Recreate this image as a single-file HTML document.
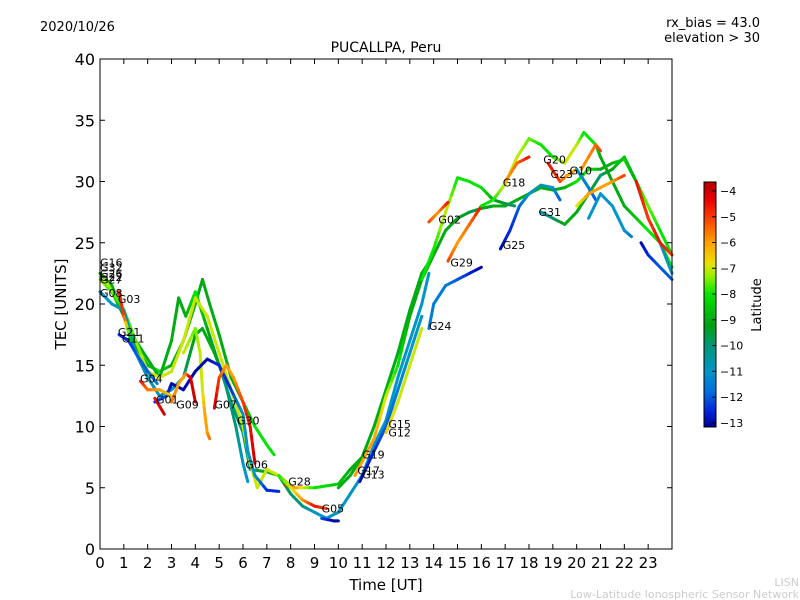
<!DOCTYPE html>
<html><head><meta charset="utf-8"><style>
body{margin:0;background:#fff;}
svg{display:block;font-family:"DejaVu Sans","Liberation Sans",sans-serif;}
</style></head><body>
<svg id="chart" width="800" height="600" viewBox="0 0 800 600">
<text x="40" y="31" font-size="13">2020/10/26</text>
<text x="760" y="27" font-size="13" text-anchor="end">rx_bias = 43.0</text>
<text x="760" y="42" font-size="13" text-anchor="end">elevation &gt; 30</text>
<text x="386" y="52" font-size="14" text-anchor="middle">PUCALLPA, Peru</text>
<g id="marks"></g>
<rect x="100" y="59" width="572" height="490" fill="none" stroke="#000" stroke-width="1"/>
<g id="axes"></g>
<text x="386" y="590" font-size="15" text-anchor="middle">Time [UT]</text>
<text x="66" y="304" font-size="15" text-anchor="middle" transform="rotate(-90 66 304)">TEC [UNITS]</text>
<g id="cbar"></g>
<text x="761" y="305" font-size="13" text-anchor="middle" transform="rotate(-90 761 305)">Latitude</text>
<text x="799" y="586" font-size="11" fill="#ccc" text-anchor="end">LISN</text>
<text x="799" y="598" font-size="11" fill="#ccc" text-anchor="end">Low-Latitude Ionospheric Sensor Network</text>
</svg>
<script>
const xTicks=[0,1,2,3,4,5,6,7,8,9,10,11,12,13,14,15,16,17,18,19,20,21,22,23];
const yTicks=[0,5,10,15,20,25,30,35,40];
const cbTicks=[-4,-5,-6,-7,-8,-9,-10,-11,-12,-13];
// each track: list of [hour, TEC, latitude]
const tracks=[
[[0,22,-7],[0.5,21,-8],[1,19,-9],[1.5,16.5,-9],[2,15,-9],[2.5,14.5,-8],[3,15,-9],[3.5,17,-9],[4,20,-9],[4.3,22,-9],[4.6,20,-9],[5,17.5,-9],[5.5,14,-9],[6,12,-9],[6.5,10,-8],[7,8.5,-8],[7.3,7.7,-8]],
[[0,22.5,-9],[0.5,21.5,-9],[1,19,-9.5],[1.5,17,-9],[2,15.5,-9],[2.5,14,-9],[3,17,-9],[3.3,20.5,-9],[3.6,19,-9],[4,21,-8],[4.5,18,-9],[5,15,-10],[5.5,12,-10],[6,9.5,-10],[6.3,6.5,-10],[7,6.3,-9],[7.5,6,-9],[8,4.5,-10],[8.5,3.5,-10],[9,3,-11],[9.5,2.5,-11],[10,3,-10.5]],
[[0.2,22,-7],[1,19.5,-8],[2,14.5,-7],[2.5,14,-7],[3,14.5,-7],[3.5,17,-7],[4,20.5,-7],[4.5,19,-7],[5,16,-7],[5.5,13,-7],[6,10,-7],[6.3,7,-7],[6.6,5,-7],[7,6.5,-7],[7.5,6,-7],[8,5.2,-7]],
[[0,21,-11],[0.5,20,-11],[1,19.5,-10.5],[1.5,16,-11],[2,14,-10.5],[2.5,12.5,-11],[3,13,-11],[3.5,14,-10],[4,17.5,-9],[4.3,18,-9],[4.8,16,-9],[5.2,14,-10],[5.7,10,-10],[6,7,-11],[6.2,5.5,-11]],
[[3.5,16,-7],[4,18,-7.5],[4.2,16,-7],[4.3,13,-7],[4.4,11,-6],[4.5,9.5,-6],[4.6,9,-5.5]],
[[0.8,17.5,-12.5],[1.2,17,-12.5],[1.5,16,-12],[2,14.5,-12],[2.4,13.5,-11.5]],
[[2.3,12,-12.5],[2.8,12.5,-12],[3,13.5,-13],[3.5,13,-13],[4,14.5,-13],[4.5,15.5,-13],[5,15,-12.5],[5.5,13,-12.5],[6,11,-11],[6.2,8,-11],[6.5,6,-11],[7,4.8,-12.5],[7.5,4.7,-12.5]],
[[0.8,21,-4.5],[1,19,-5],[1.3,17,-9]],
[[1.7,13.7,-4.5],[2,13,-5.5],[2.5,13,-6],[3,12.5,-6.5]],
[[2.3,12.3,-4.5],[2.7,11,-4]],
[[3,12,-5.5],[3.3,13.5,-6],[3.6,14.3,-6],[3.8,14,-4],[4,12,-4]],
[[4.8,11.5,-4],[5,14,-5],[5.3,15,-6],[5.6,14,-6],[6,12,-5],[6.3,10,-4.5],[6.5,7,-4]],
[[7.8,5.2,-4.5],[8.2,5,-6],[9,5,-8],[10,5.3,-8.5],[10.5,6.5,-9],[11,7.5,-9]],
[[7.5,6,-8],[8,5,-7],[8.5,4,-6],[9,3.5,-4.5],[9.5,3.3,-5]],
[[9.3,2.5,-12],[9.8,2.3,-13],[10,2.3,-13]],
[[10,5,-9],[10.5,6,-9],[11,7.5,-9],[11.5,10,-9],[12,13,-9],[12.5,16,-9],[13,19.5,-9],[13.5,22.5,-9],[14,24,-9],[14.5,26,-9],[15,27,-9],[15.5,27.5,-9.5],[16,27.8,-9.5],[16.5,28,-9],[17,28,-9],[17.5,28.5,-9],[18,29,-9],[18.5,29.5,-9],[19,29.3,-9],[19.5,29.5,-9],[20,30,-8],[20.5,31,-8],[21,31,-9],[21.5,31.5,-9],[22,31.8,-8],[22.5,30,-8],[23,28,-7.5],[23.5,26,-8],[24,24,-8]],
[[10,3,-11],[11,6,-11],[11.5,8.5,-11],[12,10.5,-11],[12.5,14,-11],[13,17,-11],[13.5,20,-11],[13.8,22.5,-11]],
[[10.7,6,-6],[11.5,9,-6],[12,12.5,-7],[12.5,15,-8],[13,19,-9],[13.5,22,-9],[14,24,-9]],
[[10.9,5.5,-13],[11.5,8,-12.5],[12,10,-12],[12.5,13,-11.5],[13,16,-11],[13.5,19,-11]],
[[12,9.5,-6.5],[12.5,12,-7],[13,15,-7],[13.5,18,-7]],
[[13.5,22,-8],[14,24.5,-8],[14.5,27.5,-7],[15,30.3,-8],[15.5,30,-8],[16,29.5,-8],[16.5,28.5,-9],[17,28.2,-9.5],[17.4,28,-10]],
[[13.8,26.7,-5],[14.2,27.5,-6],[14.6,28.3,-4.5]],
[[14.6,23.5,-5],[15,25,-6],[15.5,26.5,-5.5],[16,28,-4.5]],
[[13.8,18,-11.5],[14,20,-11.5],[14.5,21.5,-11.5],[15,22,-12],[15.5,22.5,-12.5],[16,23,-13]],
[[16,28,-8],[16.5,28.5,-8],[17,29.8,-7],[17.5,32,-7],[18,33.5,-7.5],[18.5,33,-8],[19,32,-8],[19.5,31.5,-7],[20,33,-7],[20.3,34,-8],[20.8,33,-8],[21,32,-9],[21.5,30,-9],[22,28,-9],[22.5,27,-8.5],[23,26,-8],[23.5,25,-8],[24,23,-8]],
[[17,30,-6],[17.5,31.5,-5.5],[18,32,-4.5]],
[[16.8,24.5,-13],[17.2,26,-12.5],[17.6,28,-12],[18,29,-11],[18.5,29.7,-10.5],[19,29.5,-11],[19.3,28.5,-12]],
[[18.5,27.5,-10.5],[19,27,-10],[19.5,26.5,-9],[20,27.5,-9],[20.5,29,-9],[21,30.5,-10],[21.5,31,-9],[22,32,-8.5],[22.5,30,-9],[23,27,-10],[23.5,25,-10.5],[24,22.5,-11]],
[[18.8,31.5,-4.5],[19.3,30,-5],[19.6,30.5,-6],[20,31,-6]],
[[20.2,31,-6],[20.8,33,-5.5],[21,32.5,-5]],
[[20,31,-11],[20.5,29.5,-11.5],[20.8,28.5,-12]],
[[20,28,-7],[20.5,29,-6],[21,29.5,-6],[21.5,30,-6],[22,30.5,-5]],
[[22.5,30,-4.5],[23,27,-5],[23.5,25,-4.5],[24,24,-5]],
[[20.5,27,-11],[21,29,-11],[21.5,28,-11],[22,26,-11],[22.3,25.5,-11.5]],
[[22.7,25,-13],[23,24,-12.5],[23.5,23,-12],[24,22,-12]]
];
const labelNames=["G16","G32","G26","G22","G27","G08","G03","G21","G11","G04","G01","G09","G07","G30","G06","G28","G05","G19","G17","G13","G15","G12","G24","G02","G29","G25","G18","G20","G23","G10","G31"];
const labelT=[0,0,0,0,0,0,0.75,0.75,0.92,1.68,2.35,3.2,4.8,5.75,6.1,7.9,9.3,11.0,10.8,11.0,12.1,12.1,13.8,14.2,14.7,16.9,16.9,18.6,18.9,19.7,18.4];
const labelTec=[23.4,23.0,22.5,22.2,22.0,20.9,20.4,17.7,17.2,13.9,12.2,11.8,11.8,10.5,6.9,5.5,3.3,7.7,6.4,6.1,10.2,9.5,18.2,26.9,23.4,24.8,29.9,31.8,30.6,30.9,27.5];

const NS="http://www.w3.org/2000/svg";
const X=t=>100+t*(572/24);
const Y=v=>549-v*12.25;
const latMin=-13.16,latMax=-3.65;
const stops=[[-13.16,[0,0,150]],[-12.5,[0,40,220]],[-11.8,[0,110,220]],[-11,[0,150,200]],[-10,[0,150,120]],[-9.2,[0,160,20]],[-8,[0,230,0]],[-7.3,[150,240,0]],[-6.8,[235,225,0]],[-6,[255,160,0]],[-5,[250,60,0]],[-4.3,[230,0,0]],[-3.65,[180,0,0]]];
function col(l){l=Math.max(latMin,Math.min(latMax,l));for(let i=0;i<stops.length-1;i++){const a=stops[i],b=stops[i+1];if(l<=b[0]){const f=(l-a[0])/(b[0]-a[0]);const c=a[1].map((v,k)=>Math.round(v+(b[1][k]-v)*f));return `rgb(${c[0]},${c[1]},${c[2]})`;}}return 'rgb(180,0,0)';}
const marks=document.getElementById('marks');
tracks.forEach((tr,ti)=>{
 const g=document.createElementNS(NS,'g');
 
 
 for(let i=0;i<tr.length-1;i++){
  const a=tr[i],b=tr[i+1];const n=4;
  for(let k=0;k<n;k++){
   const f0=k/n,f1=(k+1)/n;
   const ln=document.createElementNS(NS,'line');
   ln.setAttribute('x1',X(a[0]+(b[0]-a[0])*f0));ln.setAttribute('y1',Y(a[1]+(b[1]-a[1])*f0));
   ln.setAttribute('x2',X(a[0]+(b[0]-a[0])*f1));ln.setAttribute('y2',Y(a[1]+(b[1]-a[1])*f1));
   ln.setAttribute('stroke',col(a[2]+(b[2]-a[2])*(f0+f1)/2));
   ln.setAttribute('stroke-width','3');ln.setAttribute('stroke-linecap','round');
   g.appendChild(ln);
  }
 }
 marks.appendChild(g);
});
labelNames.forEach((nm,i)=>{
 const t=document.createElementNS(NS,'text');
 t.setAttribute('x',X(labelT[i]));t.setAttribute('y',Y(labelTec[i])+4);
 t.setAttribute('font-size','11');t.textContent=nm;
 
 
 marks.appendChild(t);
});
const axes=document.getElementById('axes');
xTicks.forEach(v=>{
 const l=document.createElementNS(NS,'line');l.setAttribute('x1',X(v));l.setAttribute('x2',X(v));l.setAttribute('y1',549);l.setAttribute('y2',544);l.setAttribute('stroke','#000');axes.appendChild(l);
 const l2=document.createElementNS(NS,'line');l2.setAttribute('x1',X(v));l2.setAttribute('x2',X(v));l2.setAttribute('y1',59);l2.setAttribute('y2',64);l2.setAttribute('stroke','#000');axes.appendChild(l2);
 const t=document.createElementNS(NS,'text');t.setAttribute('x',X(v));t.setAttribute('y',568);t.setAttribute('font-size','15');t.setAttribute('text-anchor','middle');t.textContent=v;
 
 
 axes.appendChild(t);
});
yTicks.forEach(v=>{
 const l=document.createElementNS(NS,'line');l.setAttribute('x1',100);l.setAttribute('x2',105);l.setAttribute('y1',Y(v));l.setAttribute('y2',Y(v));l.setAttribute('stroke','#000');axes.appendChild(l);
 const l2=document.createElementNS(NS,'line');l2.setAttribute('x1',667);l2.setAttribute('x2',672);l2.setAttribute('y1',Y(v));l2.setAttribute('y2',Y(v));l2.setAttribute('stroke','#000');axes.appendChild(l2);
 const t=document.createElementNS(NS,'text');t.setAttribute('x',95);t.setAttribute('y',Y(v)+6);t.setAttribute('font-size','16');t.setAttribute('text-anchor','end');t.textContent=v;
 
 
 axes.appendChild(t);
});
const cb=document.getElementById('cbar');
const CY=l=>427-(l-latMin)*(245/(latMax-latMin));
for(let i=0;i<245;i++){
 const r=document.createElementNS(NS,'rect');const l=latMin+(i+0.5)/245*(latMax-latMin);
 r.setAttribute('x',704);r.setAttribute('y',426-i);r.setAttribute('width',12);r.setAttribute('height',1.2);r.setAttribute('fill',col(l));cb.appendChild(r);
}
const fr=document.createElementNS(NS,'rect');fr.setAttribute('x',704);fr.setAttribute('y',182);fr.setAttribute('width',12);fr.setAttribute('height',245);fr.setAttribute('fill','none');fr.setAttribute('stroke','#000');cb.appendChild(fr);
cbTicks.forEach(v=>{
 const l=document.createElementNS(NS,'line');l.setAttribute('x1',712);l.setAttribute('x2',716);l.setAttribute('y1',CY(v));l.setAttribute('y2',CY(v));l.setAttribute('stroke','#000');cb.appendChild(l);
 const t=document.createElementNS(NS,'text');t.setAttribute('x',720);t.setAttribute('y',CY(v)+4);t.setAttribute('font-size','11');t.textContent='\u2212'+Math.abs(v);
 
 
 cb.appendChild(t);
});
</script>
</body></html>
